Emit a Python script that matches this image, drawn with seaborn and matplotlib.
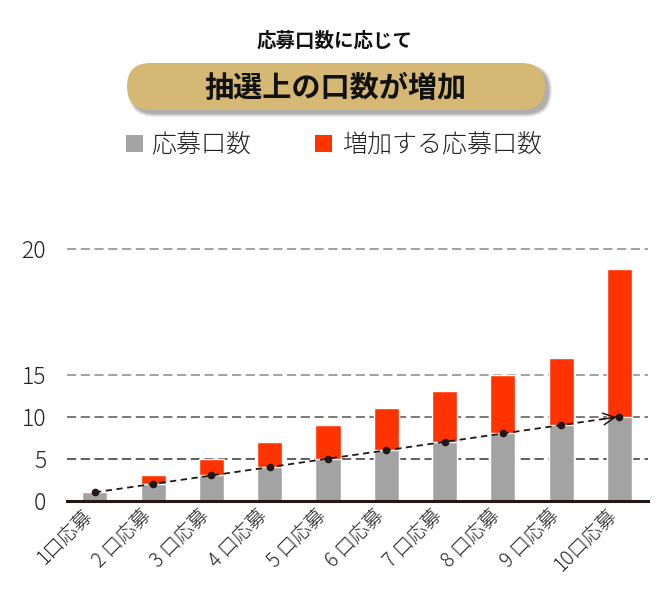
import matplotlib
matplotlib.use('Agg')
import matplotlib.pyplot as plt
import matplotlib.transforms as mtransforms
from matplotlib.patches import FancyBboxPatch, Rectangle
import seaborn as sns
import pandas as pd

# data
categories = ['1口応募', '2 口応募', '3 口応募', '4 口応募', '5 口応募',
              '6 口応募', '7 口応募', '8 口応募', '9 口応募', '10口応募']
applied = [1, 2, 3, 4, 5, 6, 7, 8, 9, 10]
totals = [1, 3, 5, 7, 9, 11, 13, 15, 17, 27.6]   # last bar drawn on the stretched part of the axis
tick_pos = [0, 5, 10, 15, 30]
tick_labels = ['0', '5', '10', '15', '20']

GRAY = '#a3a3a3'
RED = '#ff3300'
DARK = '#231815'

sns.set_theme(style='white')
plt.rcParams['font.family'] = ['Noto Sans CJK JP', 'DejaVu Sans']

df = pd.DataFrame({'label': categories, 'applied': applied, 'total': totals})

fig = plt.figure(figsize=(6.7, 6.08), dpi=100)
ax = fig.add_axes([0.100, 0.1765, 0.867, 0.4283])

# grid lines behind the bars
grid_colors = ['#333333', '#555555', '#888888', '#888888']
for y, c in zip(tick_pos[1:], grid_colors):
    ax.axhline(y, color=c, lw=1.1, ls=(0, (6, 3)), zorder=0)

# red = total, gray drawn over it = applied
sns.barplot(data=df, x='label', y='total', color=RED, width=0.43,
            saturation=1, ax=ax, zorder=2)
sns.barplot(data=df, x='label', y='applied', color=GRAY, width=0.43,
            saturation=1, ax=ax, zorder=3)

xs = list(range(len(categories)))
ax.plot(xs, applied, ls=(0, (3.5, 2.5)), color=DARK, lw=1.3,
        marker='o', ms=4.5, zorder=4)
ax.annotate('', xy=(xs[-1], applied[-1]), xytext=(xs[-1] - 0.3, applied[-1] - 0.3),
            arrowprops=dict(arrowstyle='->,head_length=0.7,head_width=0.35',
                            color=DARK, lw=1.1), zorder=5)

ax.set_xlim(-0.48, 9.49)
ax.set_ylim(0, 31)
ax.set_yticks(tick_pos)
ax.set_yticklabels(tick_labels, fontsize=16.5, color='#222222', fontweight='light')
ax.tick_params(axis='y', length=0, pad=15)
ax.tick_params(axis='x', length=0, pad=3)
ax.set_xticks(xs)
ax.set_xticklabels(categories, fontsize=14, rotation=45, ha='right',
                   va='top', rotation_mode='anchor', color='#222222',
                   fontweight='light')
shift = mtransforms.ScaledTranslation(-0.13, 0.0, fig.dpi_scale_trans)
for lab in ax.get_xticklabels():
    lab.set_transform(lab.get_transform() + shift)
ax.set_xlabel('')
ax.set_ylabel('')
for s in ['top', 'right', 'left']:
    ax.spines[s].set_visible(False)
ax.spines['bottom'].set_color(DARK)
ax.spines['bottom'].set_linewidth(2.2)
ax.spines['bottom'].set_zorder(6)

# header area drawn in pixel coordinates
ov = fig.add_axes([0, 0, 1, 1], zorder=-1)
ov.set_xlim(0, 670)
ov.set_ylim(608, 0)
ov.axis('off')
ov.patch.set_alpha(0)

ov.text(335, 41, '応募口数に応じて', ha='center', va='center',
        fontsize=14, fontweight='bold', color='#111111')

# soft shadow under the pill
for i, a in enumerate([0.10, 0.12, 0.15, 0.2]):
    grow = 3 - i
    ov.add_patch(FancyBboxPatch((127 + 4 - grow, 63 + 4 - grow), 418 + 2 * grow, 47 + 2 * grow,
                                boxstyle='round,pad=0,rounding_size=%f' % (23.5 + grow),
                                fc='#555555', ec='none', alpha=a))
ov.add_patch(FancyBboxPatch((127, 63), 418, 47,
                            boxstyle='round,pad=0,rounding_size=23.5',
                            fc='#d4b874', ec='none'))
ov.text(335, 88, '抽選上の口数が増加', ha='center', va='center',
        fontsize=21, fontweight='bold', color='#111111')

# legend
ov.add_patch(Rectangle((126, 135), 17, 17, fc=GRAY, ec='none'))
ov.text(151, 144, '応募口数', ha='left', va='center', fontsize=18,
        color='#222222', fontweight='light')
ov.add_patch(Rectangle((315, 135), 17, 17, fc=RED, ec='none'))
ov.text(342, 144, '増加する応募口数', ha='left', va='center', fontsize=18,
        color='#222222', fontweight='light')

fig.savefig('out.png', dpi=100)
